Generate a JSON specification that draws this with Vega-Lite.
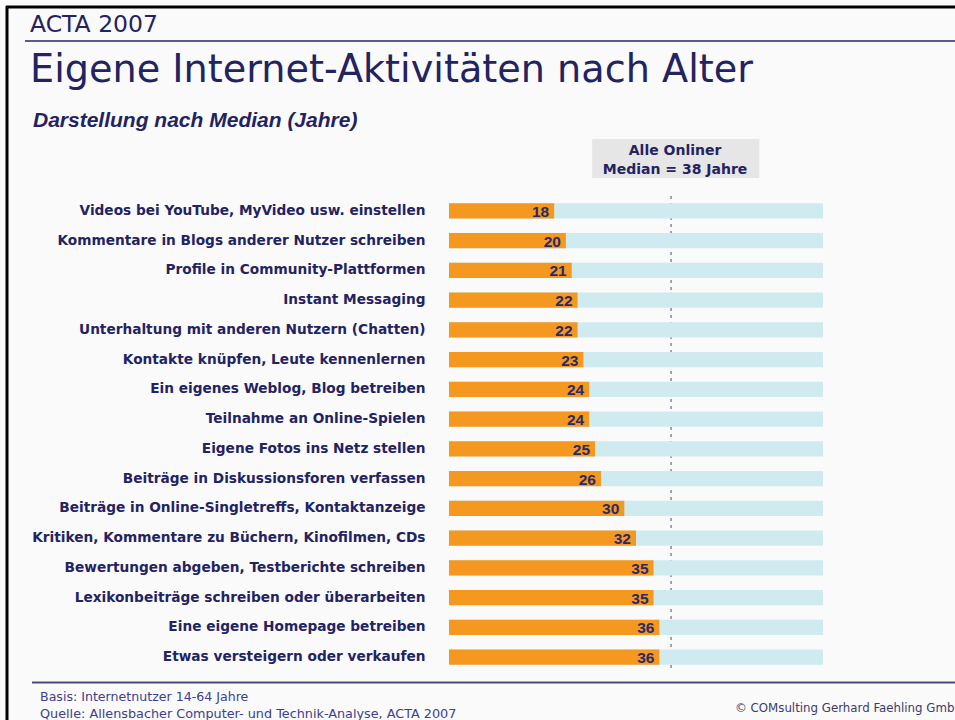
{
  "$schema": "https://vega.github.io/schema/vega-lite/v6.json",
  "autosize": {"type": "none"},
  "width": 374,
  "height": 476,
  "padding": {"left": 449, "top": 196, "right": 132, "bottom": 48},
  "background": "#fafafa",
  "config": {"view": {"stroke": null}},
  "data": {"values": [
    {"activity": "Videos bei YouTube, MyVideo usw. einstellen", "median": 18},
    {"activity": "Kommentare in Blogs anderer Nutzer schreiben", "median": 20},
    {"activity": "Profile in Community-Plattformen", "median": 21},
    {"activity": "Instant Messaging", "median": 22},
    {"activity": "Unterhaltung mit anderen Nutzern (Chatten)", "median": 22},
    {"activity": "Kontakte knüpfen, Leute kennenlernen", "median": 23},
    {"activity": "Ein eigenes Weblog, Blog betreiben", "median": 24},
    {"activity": "Teilnahme an Online-Spielen", "median": 24},
    {"activity": "Eigene Fotos ins Netz stellen", "median": 25},
    {"activity": "Beiträge in Diskussionsforen verfassen", "median": 26},
    {"activity": "Beiträge in Online-Singletreffs, Kontaktanzeige", "median": 30},
    {"activity": "Kritiken, Kommentare zu Büchern, Kinofilmen, CDs", "median": 32},
    {"activity": "Bewertungen abgeben, Testberichte schreiben", "median": 35},
    {"activity": "Lexikonbeiträge schreiben oder überarbeiten", "median": 35},
    {"activity": "Eine eigene Homepage betreiben", "median": 36},
    {"activity": "Etwas versteigern oder verkaufen", "median": 36}
  ]},
  "encoding": {
    "y": {
      "field": "activity", "type": "nominal", "sort": null,
      "scale": {"paddingInner": 0.48, "paddingOuter": 0.24},
      "axis": {
        "title": null, "domain": false, "ticks": false, "grid": false,
        "labelPadding": 24, "labelLimit": 600,
        "labelFont": "DejaVu Sans", "labelFontSize": 13.7, "labelFontWeight": "bold",
        "labelColor": "#23235f"
      }
    }
  },
  "layer": [
    {
      "data": {"values": [{}]},
      "mark": {"type": "rule", "color": "#8585a5", "strokeWidth": 1.5, "strokeDash": [3, 4]},
      "encoding": {"x": {"datum": 38, "type": "quantitative", "scale": {"domain": [0, 64], "nice": false, "zero": true}, "axis": null}, "y": null}
    },
    {
      "mark": {"type": "bar", "color": "#cfebf0"},
      "encoding": {"x": {"datum": 64, "type": "quantitative", "scale": {"domain": [0, 64], "nice": false}, "axis": null}}
    },
    {
      "mark": {"type": "bar", "color": "#f4981f"},
      "encoding": {"x": {"field": "median", "type": "quantitative", "scale": {"domain": [0, 64], "nice": false}, "axis": null}}
    },
    {
      "mark": {"type": "text", "align": "right", "baseline": "middle", "dx": -5, "dy": 1, "font": "Liberation Sans", "fontSize": 15.5, "fontWeight": "bold", "color": "#2a2a6a"},
      "encoding": {
        "x": {"field": "median", "type": "quantitative", "scale": {"domain": [0, 64], "nice": false}, "axis": null},
        "text": {"field": "median", "type": "quantitative"}
      }
    },
    {
      "data": {"values": [{}]},
      "mark": {"type": "rect", "color": "#e6e6e6"},
      "encoding": {
        "x": {"datum": 24.5, "type": "quantitative", "scale": {"domain": [0, 64], "nice": false}, "axis": null},
        "x2": {"datum": 53.1},
        "y": {"value": -57},
        "y2": {"value": -18}
      }
    },
    {
      "data": {"values": [{"t": "Alle Onliner", "p": -41}, {"t": "Median = 38 Jahre", "p": -22}]},
      "mark": {"type": "text", "align": "center", "baseline": "alphabetic", "dx": 4, "font": "DejaVu Sans", "fontSize": 14, "fontWeight": "bold", "color": "#23235f"},
      "encoding": {
        "x": {"datum": 38, "type": "quantitative", "scale": {"domain": [0, 64], "nice": false}, "axis": null},
        "y": {"field": "p", "type": "quantitative", "scale": null},
        "text": {"field": "t"}
      }
    },
    {
      "data": {"values": [{}]},
      "mark": {"type": "rule", "color": "#000000", "strokeWidth": 3},
      "encoding": {"x": {"value": -442}, "y": {"value": -190}, "y2": {"value": 524}}
    },
    {
      "data": {"values": [{}]},
      "mark": {"type": "rule", "color": "#000000", "strokeWidth": 3},
      "encoding": {"x": {"value": -443}, "x2": {"value": 506}, "y": {"value": -189}}
    },
    {
      "data": {"values": [{}]},
      "mark": {"type": "rule", "color": "#5b5b8b", "strokeWidth": 2},
      "encoding": {"x": {"value": -424}, "x2": {"value": 506}, "y": {"value": -155}}
    },
    {
      "data": {"values": [{}]},
      "mark": {"type": "rule", "color": "#4a4a7a", "strokeWidth": 2},
      "encoding": {"x": {"value": -417}, "x2": {"value": 506}, "y": {"value": 486.5}}
    },
    {
      "data": {"values": [{}]},
      "mark": {"type": "text", "align": "left", "baseline": "alphabetic", "font": "DejaVu Sans", "fontSize": 23.5, "color": "#23235f", "text": "ACTA 2007"},
      "encoding": {"x": {"value": -419}, "y": {"value": -164}}
    },
    {
      "data": {"values": [{}]},
      "mark": {"type": "text", "align": "left", "baseline": "alphabetic", "font": "DejaVu Sans", "fontSize": 38.2, "color": "#23235f", "text": "Eigene Internet-Aktivitäten nach Alter"},
      "encoding": {"x": {"value": -419}, "y": {"value": -114}}
    },
    {
      "data": {"values": [{}]},
      "mark": {"type": "text", "align": "left", "baseline": "alphabetic", "font": "Liberation Sans", "fontSize": 21, "fontWeight": "bold", "fontStyle": "italic", "color": "#23235f", "text": "Darstellung nach Median (Jahre)"},
      "encoding": {"x": {"value": -416}, "y": {"value": -69}}
    },
    {
      "data": {"values": [{}]},
      "mark": {"type": "text", "align": "left", "baseline": "alphabetic", "font": "DejaVu Sans", "fontSize": 12.6, "color": "#40408a", "text": "Basis: Internetnutzer 14-64 Jahre"},
      "encoding": {"x": {"value": -409}, "y": {"value": 504.5}}
    },
    {
      "data": {"values": [{}]},
      "mark": {"type": "text", "align": "left", "baseline": "alphabetic", "font": "DejaVu Sans", "fontSize": 12.8, "color": "#40408a", "text": "Quelle: Allensbacher Computer- und Technik-Analyse, ACTA 2007"},
      "encoding": {"x": {"value": -409}, "y": {"value": 521.5}}
    },
    {
      "data": {"values": [{}]},
      "mark": {"type": "text", "align": "left", "baseline": "alphabetic", "font": "DejaVu Sans", "fontSize": 11.8, "color": "#3a3a6a", "text": "© COMsulting Gerhard Faehling GmbH"},
      "encoding": {"x": {"value": 286}, "y": {"value": 516}}
    }
  ]
}
